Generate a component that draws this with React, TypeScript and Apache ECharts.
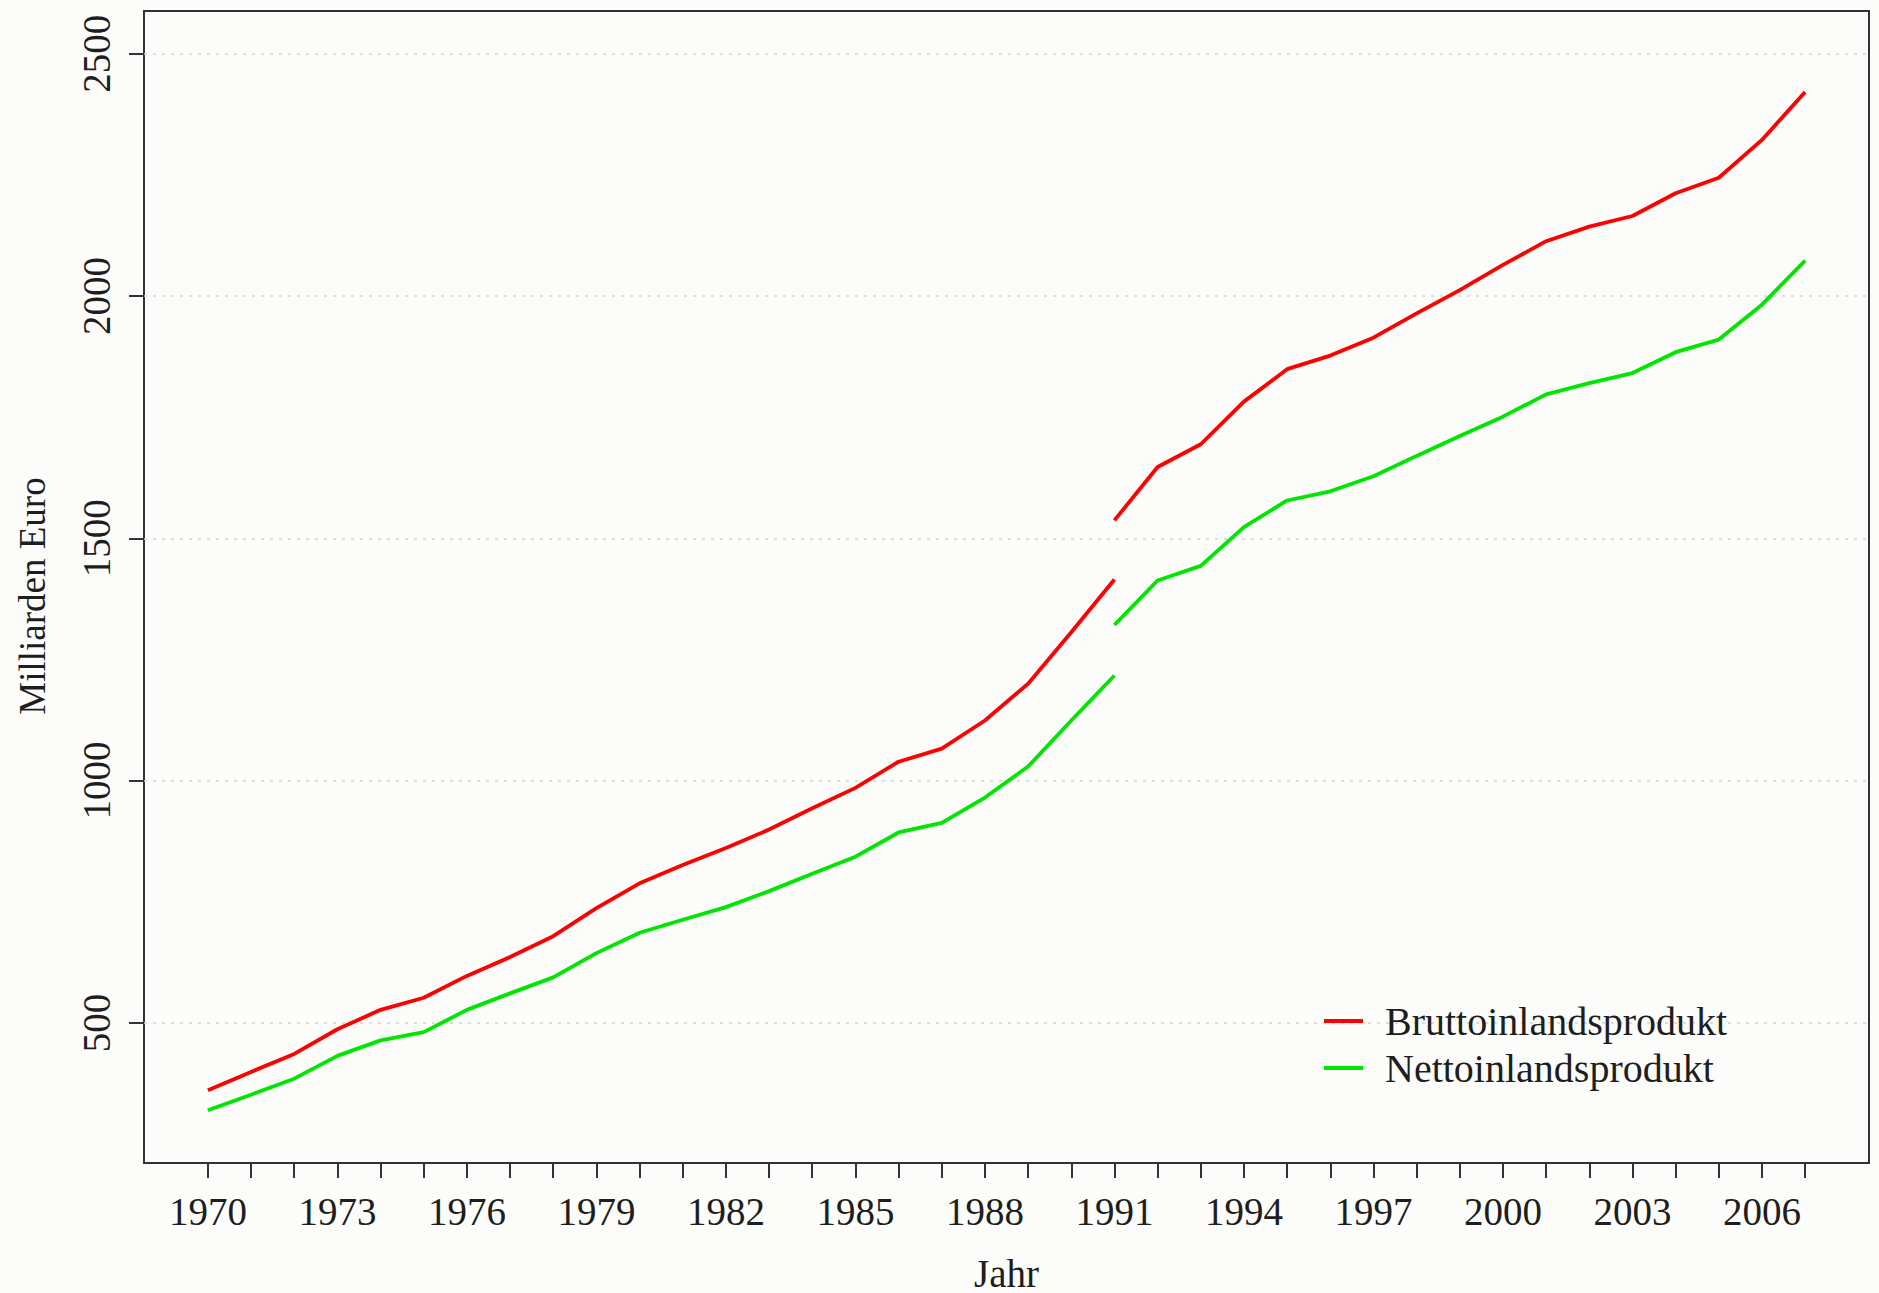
import React, { useEffect, useRef } from "react";
import * as echarts from "echarts";

const westYears = [1970, 1971, 1972, 1973, 1974, 1975, 1976, 1977, 1978, 1979, 1980, 1981, 1982, 1983, 1984, 1985, 1986, 1987, 1988, 1989, 1990, 1991];
const unifiedYears = [1991, 1992, 1993, 1994, 1995, 1996, 1997, 1998, 1999, 2000, 2001, 2002, 2003, 2004, 2005, 2006, 2007];

const bipWest = [361, 399, 436, 487, 527, 552, 597, 636, 679, 737, 788, 826, 861, 899, 943, 985, 1039, 1066, 1124, 1200, 1306, 1415];
const bipUnified = [1537, 1647, 1694, 1782, 1849, 1877, 1914, 1964, 2012, 2064, 2113, 2143, 2165, 2212, 2244, 2322, 2421];
const nipWest = [320, 352, 385, 432, 464, 481, 527, 561, 594, 644, 686, 713, 739, 772, 808, 843, 893, 913, 965, 1029, 1124, 1217];
const nipUnified = [1321, 1413, 1443, 1523, 1578, 1597, 1628, 1670, 1711, 1751, 1797, 1820, 1841, 1884, 1910, 1982, 2073];

const xTickYears = [1970, 1971, 1972, 1973, 1974, 1975, 1976, 1977, 1978, 1979, 1980, 1981, 1982, 1983, 1984, 1985, 1986, 1987, 1988, 1989, 1990, 1991, 1992, 1993, 1994, 1995, 1996, 1997, 1998, 1999, 2000, 2001, 2002, 2003, 2004, 2005, 2006, 2007];
const xLabelYears = [1970, 1973, 1976, 1979, 1982, 1985, 1988, 1991, 1994, 1997, 2000, 2003, 2006];
const yTicks = [500, 1000, 1500, 2000, 2500];

const SERIES_BIP = "Bruttoinlandsprodukt";
const SERIES_NIP = "Nettoinlandsprodukt";

const FONT = "'Liberation Serif', 'DejaVu Serif', serif";
const TEXT = "#1e1e1e";
const RED = "#ff0000";
const GREEN = "#00e600";

const pairs = (xs: number[], ys: number[]) => xs.map((x, i) => [x, ys[i]]);

export default function App() {
  const ref = useRef<HTMLDivElement>(null);
  useEffect(() => {
    if (!ref.current) return;
    const chart = echarts.init(ref.current, undefined, { renderer: "svg" });
    const lineSeries = (name: string, data: number[][], color: string) => ({
      type: "line",
      name,
      data,
      showSymbol: false,
      symbol: "none",
      color,
      lineStyle: { color, width: 3.8 },
      z: 3,
    });
    chart.setOption({
      animation: false,
      backgroundColor: "#fcfcfa",
      grid: {
        left: 144,
        top: 11,
        right: 10,
        bottom: 130,
        outerBoundsMode: "none",
        containLabel: false,
        show: true,
        borderColor: "#333",
        borderWidth: 2,
        backgroundColor: "transparent",
      },
      xAxis: {
        type: "value",
        min: 1968.52,
        max: 2008.48,
        name: "Jahr",
        nameLocation: "middle",
        nameGap: 95,
        nameTextStyle: { fontFamily: FONT, fontSize: 39, lineHeight: 30, color: TEXT },
        axisLine: { show: false },
        axisTick: {
          show: true,
          customValues: xTickYears,
          length: 15,
          lineStyle: { color: "#333", width: 2 },
        },
        axisLabel: {
          customValues: xLabelYears,
          formatter: (v: number) => String(v),
          fontFamily: FONT,
          fontSize: 39,
          color: TEXT,
          margin: 29,
        },
        splitLine: { show: false },
      },
      yAxis: {
        type: "value",
        min: 211,
        max: 2588,
        name: "Milliarden Euro",
        nameLocation: "middle",
        nameGap: 93,
        nameTextStyle: {
          fontFamily: FONT,
          fontSize: 37,
          color: TEXT,
          padding: [0, 18, 0, 0],
        },
        axisLine: { show: false },
        axisTick: {
          show: true,
          customValues: yTicks,
          length: 15,
          lineStyle: { color: "#333", width: 2 },
        },
        axisLabel: {
          customValues: yTicks,
          formatter: (v: number) => String(v),
          rotate: 90,
          fontFamily: FONT,
          fontSize: 39,
          color: TEXT,
          margin: 28,
        },
        splitLine: {
          show: true,
          lineStyle: { color: "#d2d2d2", width: 1.5, type: [3, 6] },
        },
      },
      legend: {
        data: [SERIES_BIP, SERIES_NIP],
        orient: "vertical",
        left: 1324,
        top: 1001,
        padding: 0,
        icon: "rect",
        itemWidth: 39,
        itemHeight: 4,
        itemGap: 7,
        textStyle: {
          fontFamily: FONT,
          fontSize: 40,
          color: TEXT,
          padding: [0, 0, 0, 17],
        },
      },
      series: [
        lineSeries(SERIES_BIP, pairs(westYears, bipWest), RED),
        lineSeries(SERIES_BIP, pairs(unifiedYears, bipUnified), RED),
        lineSeries(SERIES_NIP, pairs(westYears, nipWest), GREEN),
        lineSeries(SERIES_NIP, pairs(unifiedYears, nipUnified), GREEN),
      ],
    });
    return () => chart.dispose();
  }, []);
  return (
    <div
      ref={ref}
      style={{ position: "absolute", left: 0, top: 0, width: 1879, height: 1293 }}
    />
  );
}
